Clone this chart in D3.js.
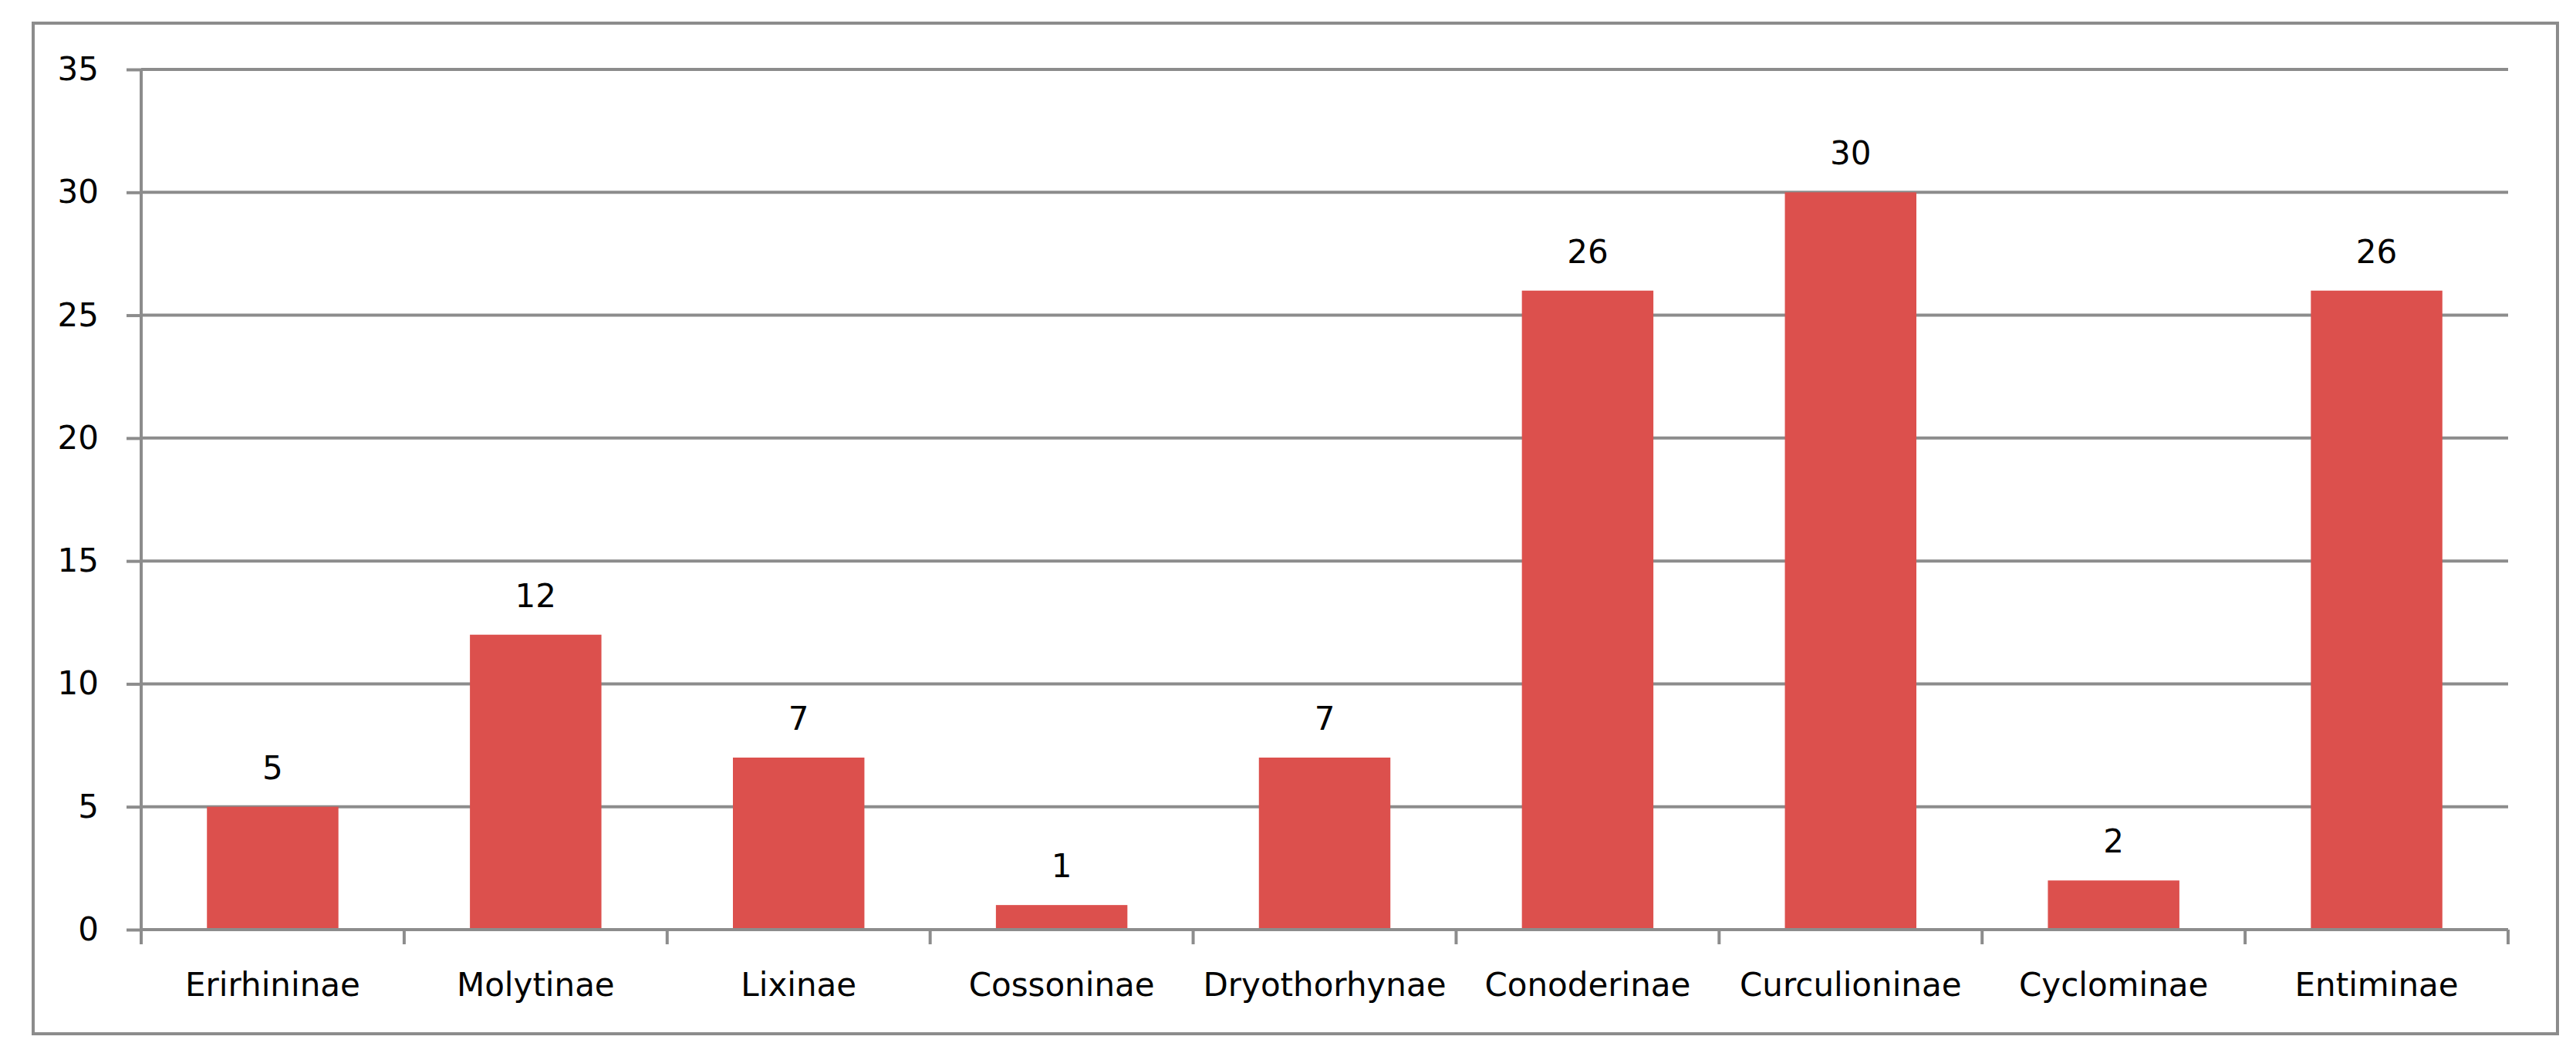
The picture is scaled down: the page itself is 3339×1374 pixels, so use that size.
<!DOCTYPE html>
<html>
<head>
<meta charset="utf-8">
<script src="https://d3js.org/d3.v7.min.js"></script>
<style>
  body { margin: 0; background: #fff; }
  text { font-family: "DejaVu Sans", sans-serif; font-size: 42px; fill: #000; }
</style>
</head>
<body>
<script>
// subfamilies and counts
var categories = ["Erirhininae", "Molytinae", "Lixinae", "Cossoninae", "Dryothorhynae",
                  "Conoderinae", "Curculioninae", "Cyclominae", "Entiminae"];
var counts = [5, 12, 7, 1, 7, 26, 30, 2, 26];
var yTicks = [0, 5, 10, 15, 20, 25, 30, 35];

var width = 3339,
    height = 1374;
var grey = "#8c8c8c";
var barColor = "#dc504d";

var svg = d3.select("body")
    .append("svg")
    .attr("width", width)
    .attr("height", height);

//outer frame
svg.append("rect")
    .attr("x", 43)
    .attr("y", 30)
    .attr("width", 3315 - 43)
    .attr("height", 1340 - 30)
    .attr("fill", "none")
    .attr("stroke", grey)
    .attr("stroke-width", 4);

//plot area edges (top is a reserved global, so prefixed names)
var plotLeft = 183, plotRight = 3251, plotTop = 90, plotBottom = 1205;

var x = d3.scaleBand()
    .domain(categories)
    .range([plotLeft, plotRight])
    .paddingInner(0.5)
    .paddingOuter(0.25);

var y = d3.scaleLinear()
    .domain([0, 35])
    .range([plotBottom, plotTop]);

//y labels + left ticks
var yAxis = svg.append("g")
    .attr("transform", "translate(" + plotLeft + ",0)")
    .call(d3.axisLeft(y).tickValues(yTicks).tickSize(19).tickPadding(36));
yAxis.select(".domain").remove();
yAxis.selectAll(".tick line").attr("stroke", grey).attr("stroke-width", 4);
yAxis.selectAll(".tick text")
    .attr("fill", "#000")
    .style("font-size", "42px")
    .style("font-family", "DejaVu Sans");

//gridlines
svg.append("g").selectAll("line")
    .data(yTicks)
    .enter()
    .append("line")
    .attr("x1", plotLeft)
    .attr("x2", plotRight)
    .attr("y1", function(d){ return y(d); })
    .attr("y2", function(d){ return y(d); })
    .attr("stroke", grey)
    .attr("stroke-width", 4);

//y axis line
svg.append("line")
    .attr("x1", plotLeft).attr("x2", plotLeft)
    .attr("y1", plotTop).attr("y2", plotBottom)
    .attr("stroke", grey)
    .attr("stroke-width", 4);

//bars
svg.selectAll(".bar")
    .data(counts)
    .enter()
    .append("rect")
    .attr("class", "bar")
    .attr("x", function(d, i){ return x(categories[i]); })
    .attr("y", function(d){ return y(d); })
    .attr("width", x.bandwidth())
    .attr("height", function(d){ return plotBottom - y(d); })
    .attr("fill", barColor);

//value labels
svg.selectAll(".val")
    .data(counts)
    .enter()
    .append("text")
    .attr("class", "val")
    .attr("x", function(d, i){ return x(categories[i]) + x.bandwidth() / 2; })
    .attr("y", function(d){ return y(d) - 36; })
    .attr("text-anchor", "middle")
    .text(function(d){ return d; });

//x axis baseline + ticks at band boundaries
svg.append("line")
    .attr("x1", plotLeft).attr("x2", plotRight)
    .attr("y1", plotBottom).attr("y2", plotBottom)
    .attr("stroke", grey)
    .attr("stroke-width", 4);

var step = x.step();
svg.append("g").selectAll("line")
    .data(d3.range(categories.length + 1))
    .enter()
    .append("line")
    .attr("x1", function(i){ return plotLeft + i * step; })
    .attr("x2", function(i){ return plotLeft + i * step; })
    .attr("y1", plotBottom)
    .attr("y2", plotBottom + 19)
    .attr("stroke", grey)
    .attr("stroke-width", 4);

//category labels
svg.selectAll(".cat")
    .data(categories)
    .enter()
    .append("text")
    .attr("class", "cat")
    .attr("x", function(d){ return x(d) + x.bandwidth() / 2; })
    .attr("y", plotBottom + 86)
    .attr("text-anchor", "middle")
    .text(function(d){ return d; });
</script>
</body>
</html>
